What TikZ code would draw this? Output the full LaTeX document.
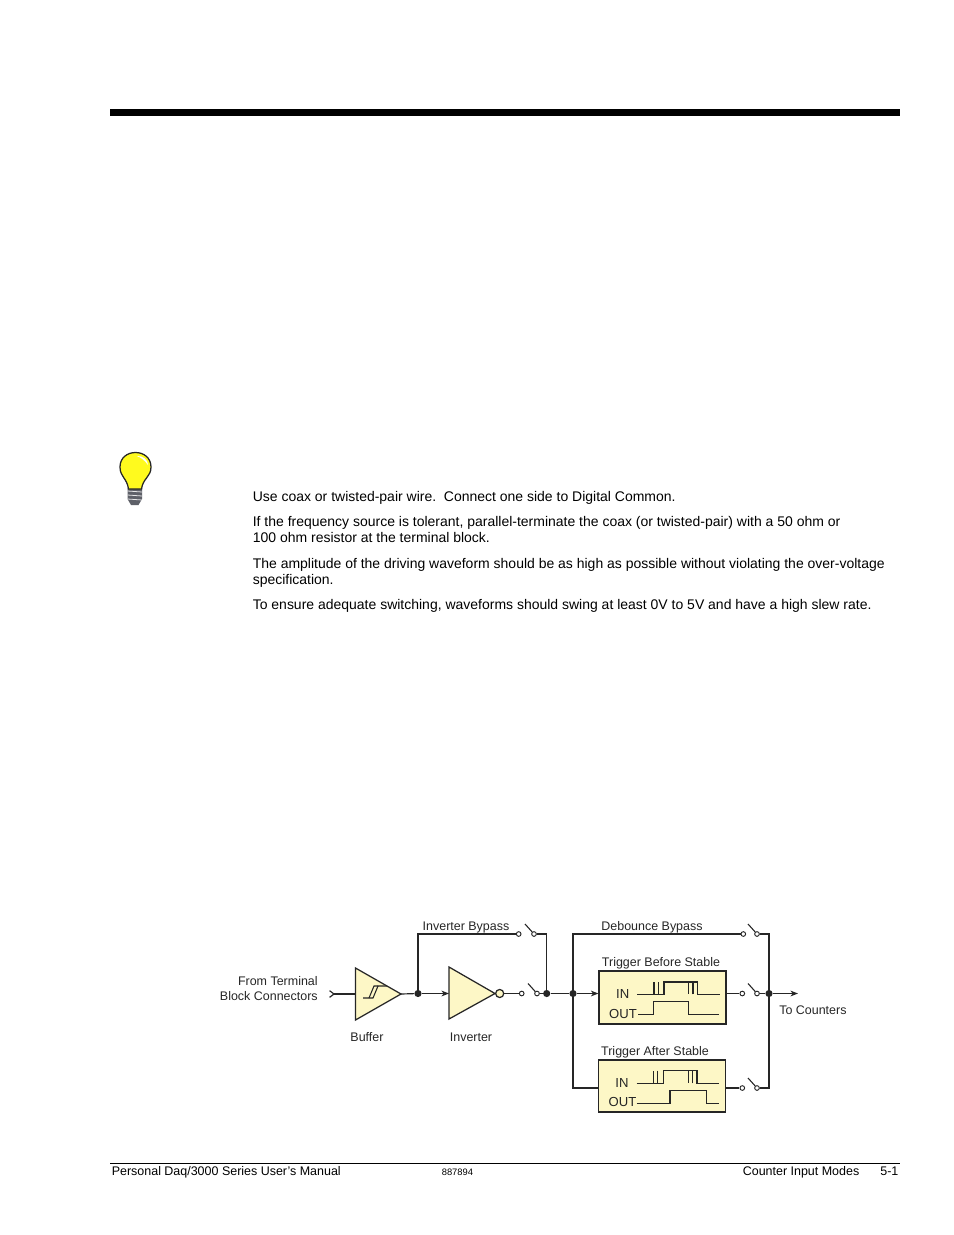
\documentclass[tikz,border=0pt]{standalone}
\usepackage{fontspec}
\setmainfont{Liberation Sans}
\usepackage{xcolor}
\usetikzlibrary{arrows.meta}
\definecolor{ink}{HTML}{262626}
\definecolor{paleyel}{HTML}{FDF7C6}
\definecolor{bulbyel}{HTML}{FFFA1E}
\definecolor{screw}{HTML}{5E6068}

\begin{document}
\begin{tikzpicture}[
  x=0.6415pt, y=-0.6415pt,
  >={Stealth[length=1.7mm,width=1.3mm,inset=0.5mm]},
  wire/.style={draw=ink, line width=0.75pt},
  wave/.style={draw=ink, line width=0.75pt},
  flow/.style={wire, ->},
  term/.style={circle, draw=ink, fill=white, line width=0.6pt, minimum size=3pt, inner sep=0pt},
  dot/.style={circle, fill=ink, minimum size=4.6pt, inner sep=0pt},
  gate/.style={draw=ink, fill=paleyel, line width=0.8pt, line join=miter},
  blockbox/.style={draw=ink, fill=paleyel, line width=1.1pt},
  body/.style={anchor=base west, inner sep=0pt, font=\fontsize{8.97}{11}\selectfont},
  foot/.style={anchor=base west, inner sep=0pt, font=\fontsize{8}{10}\selectfont},
  lbl/.style={font=\fontsize{8}{9.6}\selectfont, text=ink, inner sep=0pt},
  wlbl/.style={font=\fontsize{8.4}{10}\selectfont, text=ink, inner sep=0pt},
]
\useasboundingbox (0,0) rectangle (954,1235);

% ---------- page rules ----------
\fill[black] (110,109) rectangle (900,116);
\draw[black, line width=0.6pt] (110,1163) -- (900,1163);
\node[foot] (manual) at (111.5,1175) {Personal Daq/3000 Series User's Manual};
\node[anchor=base west, inner sep=0pt, font=\fontsize{6}{7}\selectfont] (partno) at (441.5,1175) {887894};
\node[foot] (chapter) at (742.5,1175) {Counter Input Modes};
\node[foot] (pageno) at (880,1175) {5-1};

% ---------- hint text ----------
\node[body] (hinta) at (252.5,501.5) {Use coax or twisted-pair wire.\ \ Connect one side to Digital Common.};
\node[body] (hintb) at (252.5,526.5) {If the frequency source is tolerant, parallel-terminate the coax (or twisted-pair) with a 50 ohm or};
\node[body] (hintc) at (252.5,542.5) {100 ohm resistor at the terminal block.};
\node[body] (hintd) at (252.5,568.5) {The amplitude of the driving waveform should be as high as possible without violating the over-voltage};
\node[body] (hinte) at (252.5,584.5) {specification.};
\node[body] (hintf) at (252.5,609.5) {To ensure adequate switching, waveforms should swing at least 0V to 5V and have a high slew rate.};

% ---------- light bulb ----------
\fill[screw] (127.5,488) -- (142,488) -- (142,499) -- (138.5,505) -- (131,505) -- (127.5,499) -- cycle;
\foreach \y in {491,495,499} \draw[white!85!screw, line width=0.5pt] (127.5,\y) -- (142,\y+1);
\draw[ink, line width=0.8pt, fill=bulbyel] (128.5,489) .. controls (127,478) and (120,477) .. (120,467)
  .. controls (120,458) and (127,452.5) .. (135.5,452.5)
  .. controls (144,452.5) and (151,458) .. (151,467)
  .. controls (151,477) and (143,478) .. (141.5,489) -- cycle;
\fill[white] (137,456) .. controls (143,455.5) and (148,460) .. (148,465) .. controls (145,461) and (142,458) .. (137,456) -- cycle;

% ---------- nodes of the signal path ----------
\coordinate (inA) at (329,994);
\coordinate (bufI) at (355.5,994);
\coordinate (bufO) at (401,994);
\coordinate (invI) at (449,993.5);
\coordinate (invO) at (495,993.5);
\node[dot] (d1) at (418,993.5) {};
\node[dot] (d2) at (546.7,993.5) {};
\node[dot] (d3) at (573,993.5) {};
\node[dot] (d4) at (769,993.5) {};
\coordinate (c1) at (418,934);
\coordinate (c2) at (546.7,934);
\coordinate (c3) at (573,934);
\coordinate (c4) at (769,934);
\coordinate (c5) at (573,1088);
\coordinate (c6) at (769,1088);
\coordinate (toCnt) at (798,993.5);

\foreach \nm/\x/\y in {ta/518.7/934, tb/521.7/993.5, tc/743.3/934, td/742.3/993.5, te/742.3/1088}
  \node[term] (\nm) at (\x,\y) {};
\foreach \nm/\x/\y in {pa/534/934, pb/537/993.5, pc/757/934, pd/757/993.5, pe/757/1088}
  \node[term] (\nm) at (\x,\y) {};

% ---------- gates ----------
\draw[wire, {Straight Barb[reversed,length=1mm,width=1.5mm]}-] (inA) -- (bufI);
\draw[gate] (355.5,968) -- (401,994) -- (355.5,1020) -- cycle;
\draw[wire, line width=0.7pt] (363,998) -- (373,998) -- (378,986) -- (387,986);
\draw[wire, line width=0.7pt] (369,998) -- (374,986) -- (378,986);
\draw[gate] (449,967) -- (495,993.5) -- (449,1019) -- cycle;
\node[circle, draw=ink, fill=paleyel, line width=0.8pt, minimum size=5.2pt, inner sep=0pt] (bub) at (499.7,993.5) {};

% ---------- blocks ----------
\node[blockbox, minimum width=81.5pt, minimum height=34pt, inner sep=0pt] (tbs) at (662.8,997.5) {};
\node[blockbox, minimum width=81.5pt, minimum height=33.4pt, inner sep=0pt] (tas) at (662,1085.7) {};

% ---------- wires ----------
\draw[wire] (bufO) -- (d1);
\draw[flow] (d1) -- (invI);
\draw[wire] (d1) -- (c1) -- (ta);
\draw[wire] (bub) -- (tb);
\draw[wire] (pa) -- (c2) -- (d2);
\draw[wire] (pb) -- (d2) -- (d3);
\draw[flow] (d3) -- (tbs.west |- d3);
\draw[wire] (tc) -- (c3) -- (c5) -- (tas.west |- c5);
\draw[wire] (tbs.east |- td) -- (td);
\draw[wire] (tas.east |- te) -- (te);
\draw[wire] (pc) -- (c4) -- (c6) -- (pe);
\draw[wire] (pd) -- (d4);
\draw[flow] (d4) -- (toCnt);
\foreach \nm in {pa,pb,pc,pd,pe}
  \draw[wire, line width=0.7pt] (\nm) -- ++(-9,-10);

% ---------- waveforms ----------
\draw[wave] (637.3,994.3) -- (654,994.3) -- (654,982) (658.5,982) -- (658.5,994.3) -- (664,994.3) -- (664,982)
  -- (688.3,982) -- (688.3,994.3) (693,994.3) -- (693,982) -- (697.5,982) -- (697.5,994.3) -- (719.5,994.3);
\draw[wave] (654,994.3) -- (658.5,994.3) (688.3,982) -- (693,982);
\draw[wave] (638,1014.3) -- (653.3,1014.3) -- (653.3,1001.7) -- (688.3,1001.7) -- (688.3,1014.3) -- (719.3,1014.3);
\draw[wave] (636.7,1083.3) -- (653.3,1083.3) -- (653.3,1070.7) (657.7,1070.7) -- (657.7,1083.3) -- (663.7,1083.3) -- (663.7,1070.7)
  -- (688.3,1070.7) -- (688.3,1083.3) (692.7,1083.3) -- (692.7,1070.7) -- (697,1070.7) -- (697,1083.3) -- (718.7,1083.3);
\draw[wave] (653.3,1083.3) -- (657.7,1083.3) (688.3,1070.7) -- (692.7,1070.7);
\draw[wave] (636.7,1103.3) -- (670,1103.3) -- (670,1090.7) -- (706.7,1090.7) -- (706.7,1103.3) -- (718.7,1103.3);

% ---------- labels ----------
\node[lbl, align=right, anchor=east] (src) at (318,989) {From Terminal\\Block Connectors};
\node[lbl] (lbuf) at (367,1037) {Buffer};
\node[lbl] (linv) at (471,1037) {Inverter};
\node[lbl] (lib) at (466,927) {Inverter Bypass};
\node[lbl] (ldb) at (652,927.5) {Debounce Bypass};
\node[lbl] (ltbs) at (661,963) {Trigger Before Stable};
\node[lbl] (ltas) at (655,1052.5) {Trigger After Stable};
\node[lbl, anchor=west] (lcnt) at (779,1010.5) {To Counters};
\node[wlbl] (in1) at (622.7,994) {IN};
\node[wlbl] (out1) at (623,1013.5) {OUT};
\node[wlbl] (in2) at (622,1082.5) {IN};
\node[wlbl] (out2) at (622.5,1102) {OUT};
\end{tikzpicture}
\end{document}
